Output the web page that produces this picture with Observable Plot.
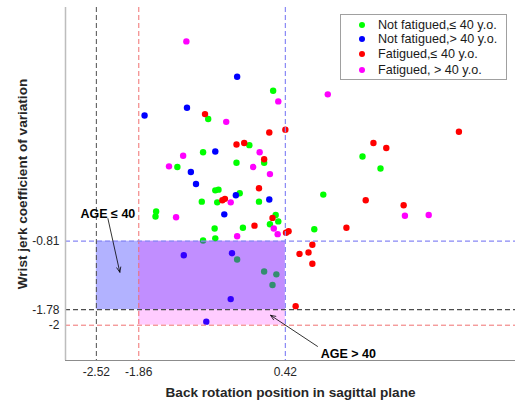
<!DOCTYPE html>
<html>
<head>
<meta charset="utf-8">
<script src="https://cdn.jsdelivr.net/npm/d3@7"></script>
<script src="https://cdn.jsdelivr.net/npm/@observablehq/plot@0.6"></script>
<style>
  body { margin: 0; background: #fff; font-family: "Liberation Sans", Arial, Helvetica, sans-serif; }
  #wrap { position: relative; width: 516px; height: 402px; }
  #legend { position: absolute; left: 340px; top: 14px; width: 167px; height: 66px; border: 1px solid #a0a0a0; background: #fff; box-sizing: border-box; font-size: 12.6px; color: #1a1a1a; }
  .row { position: absolute; left: 0; height: 14px; line-height: 14px; white-space: nowrap; }
  .row .dot { position: absolute; left: 18px; top: 4px; width: 6px; height: 6px; border-radius: 50%; }
  .row .lab { position: absolute; left: 37px; top: 0; }
</style>
</head>
<body>
<div id="wrap"></div>
<script>
// ---- data ----
const seriesNames = ["Not fatigued,\u2264 40 y.o.", "Not fatigued,> 40 y.o.", "Fatigued,\u2264 40 y.o.", "Fatigued, > 40 y.o."];
const seriesColors = ["#00ff00", "#0000ff", "#ff0000", "#ff00ff"];

const greenX = [0.23, -0.78, -0.14, -0.86, 0.09, -0.34, -1.26, 1.62, 1.90, -0.67, -0.62, -0.29, -0.88, -0.64, 0.01, 0.27, 0.31, 0.18, -0.68, -0.24, -0.86, -0.67, -1.59, -1.60, 1.01, 0.87, -0.33, 0.09, 0.28, 0.22];
const greenY = [1.32, 0.92, 0.55, 0.45, 0.30, 0.30, 0.24, 0.39, 0.22, -0.09, -0.08, -0.13, -0.25, -0.26, -0.25, -0.44, -0.53, -0.57, -0.63, -0.62, -0.80, -0.77, -0.39, -0.46, -0.15, -0.64, -1.07, -1.24, -1.28, -1.43];

const blueX = [-0.33, -1.77, -1.11, -0.67, -1.05, -0.97, -0.35, 0.17, -0.53, -1.16, -0.41, -0.43, -0.81];
const blueY = [1.52, 0.97, 1.08, 0.46, 0.17, 0.00, -0.16, -0.22, -0.43, -1.01, -0.98, -1.63, -1.95];

const redX = [-0.83, 0.42, 0.17, -0.34, -0.22, 0.09, 3.12, 1.79, 1.99, 0.01, -0.56, -0.52, 0.22, -0.06, 0.47, 0.43, 1.67, 2.26, 1.37, 0.84, 0.64, 0.78, 0.84, 0.58];
const redY = [0.99, 0.77, 0.73, 0.56, 0.58, 0.35, 0.74, 0.58, 0.51, -0.06, -0.23, -0.21, -0.48, -0.59, -0.67, -0.69, -0.23, -0.30, -0.62, -0.86, -0.99, -0.97, -1.13, -1.73];

const magentaX = [-1.12, 0.31, -0.50, 1.08, 0.02, -1.17, -1.39, -0.08, 0.18, -0.43, -1.28, 0.24, 0.30, -0.33, 2.28, 2.65];
const magentaY = [2.02, 1.17, 0.88, 1.27, 0.45, 0.40, 0.25, 0.24, 0.14, -0.26, -0.47, -0.63, -0.71, -0.74, -0.45, -0.44];

const xTicks = [-2.52, -1.86, 0.42];   // gray, red, blue cut-offs
const yTicks = [-0.81, -1.78, -2];     // blue, gray, red cut-offs

const annTexts = ["AGE \u2264 40", "AGE > 40"];
const annTextX = [-2.34, 1.40];
const annTextY = [-0.42, -2.41];
const annFromX = [-2.34, 0.92];
const annFromY = [-0.49, -2.30];
const annToX = [-2.155, 0.19];
const annToY = [-1.25, -1.86];

const xLabel = "Back rotation position in sagittal plane";
const yLabel = "Wrist jerk coefficient of variation";

// ---- build ----
const toPts = (xs, ys) => xs.map((x, i) => ({x, y: ys[i]}));
const groups = [toPts(greenX, greenY), toPts(blueX, blueY), toPts(redX, redY), toPts(magentaX, magentaY)];
const ann = annTexts.map((t, i) => ({t, x: annTextX[i], y: annTextY[i]}));
const arrows = annFromX.map((x, i) => ({x1: x, y1: annFromY[i], x2: annToX[i], y2: annToY[i]}));

const [xGray, xRed, xBlue] = xTicks;
const [yBlue, yGray, yRed] = yTicks;

const chart = Plot.plot({
  width: 516, height: 402,
  marginLeft: 65, marginRight: 1, marginTop: 7, marginBottom: 42,
  x: {domain: [-3, 4]},
  y: {domain: [-2.5, 2.5]},
  style: {fontFamily: "'Liberation Sans', Arial, Helvetica, sans-serif", fontSize: "12px", color: "#262626", background: "white", overflow: "visible"},
  marks: [
    Plot.axisX(xTicks, {tickSize: 0, tickPadding: 7, tickFormat: d => String(d), label: null}),
    Plot.axisY(yTicks, {tickSize: 0, tickPadding: 6, tickFormat: d => String(d), label: null}),
    ...groups.map((g, i) => Plot.dot(g, {x: "x", y: "y", r: 3.2, fill: seriesColors[i], stroke: "none"})),
    Plot.rect([{x1: xGray, x2: xBlue, y1: yGray, y2: yBlue}], {x1: "x1", x2: "x2", y1: "y1", y2: "y2", fill: "#0000ff", fillOpacity: 0.3}),
    Plot.rect([{x1: xRed, x2: xBlue, y1: yRed, y2: yBlue}], {x1: "x1", x2: "x2", y1: "y1", y2: "y2", fill: "#ff00ff", fillOpacity: 0.2}),
    Plot.ruleX([xGray], {stroke: "#4d4d4d", strokeDasharray: "5,3", strokeWidth: 1}),
    Plot.ruleY([yGray], {stroke: "#4d4d4d", strokeDasharray: "5,3", strokeWidth: 1.2}),
    Plot.ruleX([xRed], {stroke: "#f07070", strokeDasharray: "5,3", strokeWidth: 1}),
    Plot.ruleY([yRed], {stroke: "#f07070", strokeDasharray: "5,3", strokeWidth: 1}),
    Plot.ruleX([xBlue], {stroke: "#8888f5", strokeDasharray: "5,3", strokeWidth: 1.2}),
    Plot.ruleY([yBlue], {stroke: "#8888f5", strokeDasharray: "5,3", strokeWidth: 1.2}),
    Plot.ruleX([-3], {stroke: "#bdbdbd", strokeWidth: 1.5}),
    Plot.ruleY([-2.5], {stroke: "#8c8c8c", strokeWidth: 1}),
    Plot.arrow(arrows, {x1: "x1", y1: "y1", x2: "x2", y2: "y2", stroke: "black", strokeWidth: 0.8, headLength: 10, headAngle: 45}),
    Plot.text(ann, {x: "x", y: "y", text: "t", fontWeight: "bold", fontSize: 12.5, fill: "black"}),
    Plot.text([xLabel], {frameAnchor: "bottom", textAnchor: "middle", lineAnchor: "middle", dy: 32, text: d => d, fontWeight: "bold", fontSize: 13.6, fill: "#262626"}),
    Plot.text([yLabel], {frameAnchor: "left", textAnchor: "middle", lineAnchor: "middle", dx: -43, rotate: -90, text: d => d, fontWeight: "bold", fontSize: 13.6, fill: "#262626"})
  ]
});

const wrap = document.getElementById("wrap");
wrap.appendChild(chart);

const legend = document.createElement("div");
legend.id = "legend";
const rowCenters = [9.7, 24.3, 39, 55.3];
seriesNames.forEach((name, i) => {
  const row = document.createElement("div");
  row.className = "row";
  row.style.top = (rowCenters[i] - 7) + "px";
  const dot = document.createElement("span");
  dot.className = "dot";
  dot.style.background = seriesColors[i];
  const lab = document.createElement("span");
  lab.className = "lab";
  lab.textContent = name;
  row.appendChild(dot);
  row.appendChild(lab);
  legend.appendChild(row);
});
wrap.appendChild(legend);
</script>
</body>
</html>
